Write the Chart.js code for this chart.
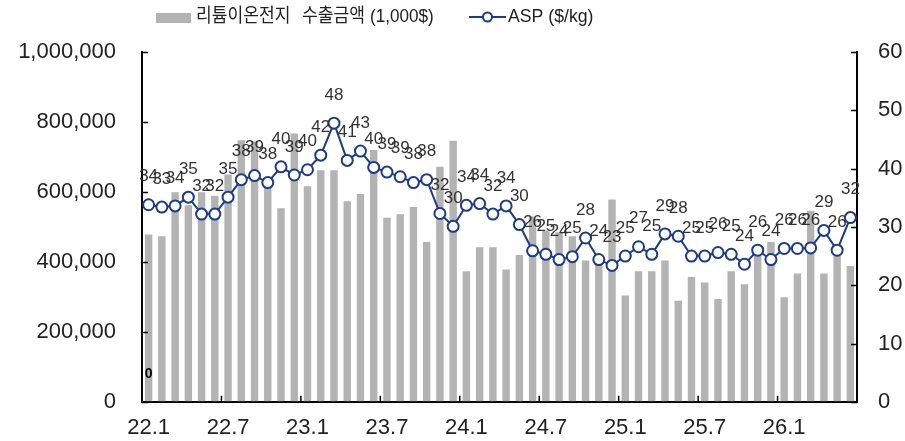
<!DOCTYPE html>
<html>
<head>
<meta charset="utf-8">
<script src="https://cdn.jsdelivr.net/npm/chart.js@4/dist/chart.umd.min.js"></script>
<style>
  html, body { margin: 0; padding: 0; background: #fff; }
  #wrap { width: 905px; height: 441px; }
</style>
</head>
<body>
<div id="wrap"><canvas id="c" width="905" height="441"></canvas></div>
<script>
// Monthly categories, 2022.01 – 2026.06
const categories = [
  '22.1','22.2','22.3','22.4','22.5','22.6','22.7','22.8','22.9','22.10','22.11','22.12',
  '23.1','23.2','23.3','23.4','23.5','23.6','23.7','23.8','23.9','23.10','23.11','23.12',
  '24.1','24.2','24.3','24.4','24.5','24.6','24.7','24.8','24.9','24.10','24.11','24.12',
  '25.1','25.2','25.3','25.4','25.5','25.6','25.7','25.8','25.9','25.10','25.11','25.12',
  '26.1','26.2','26.3','26.4','26.5','26.6'
];

// Lithium-ion battery export value (thousand USD)
const exportValue = [
  478000, 473000, 599000, 562000, 599000, 589000, 650000, 748000, 745000, 612000, 553000, 767000,
  616000, 662000, 662000, 573000, 594000, 720000, 526000, 536000, 557000, 457000, 672000, 746000,
  373000, 442000, 442000, 378000, 420000, 530000, 490000, 485000, 473000, 404000, 392000, 578000,
  304000, 373000, 373000, 404000, 289000, 357000, 341000, 294000, 373000, 336000, 420000, 457000,
  299000, 367000, 546000, 367000, 450000, 388000
];

// Average selling price (USD/kg)
const asp = [
  33.8, 33.4, 33.6, 35.1, 32.2, 32.2, 35.1, 38.1, 38.8, 37.6, 40.3, 38.9,
  39.8, 42.3, 47.8, 41.4, 43.0, 40.2, 39.4, 38.6, 37.6, 38.1, 32.3, 30.1,
  33.7, 34.0, 32.2, 33.6, 30.4, 25.9, 25.3, 24.4, 24.9, 28.1, 24.4, 23.4,
  25.0, 26.6, 25.3, 28.8, 28.4, 25.0, 25.0, 25.6, 25.3, 23.6, 26.0, 24.4,
  26.3, 26.3, 26.4, 29.4, 26.0, 31.6
];

const leftTicks = [0, 200000, 400000, 600000, 800000, 1000000];
const rightTicks = [0, 10, 20, 30, 40, 50, 60];

const barLabelParts = ['리튬이온전지', '수출금액', '(1,000$)'];
const barLabel = barLabelParts.join(' ');
const lineLabel = 'ASP ($/kg)';

const BAR_COLOR = '#b3b3b3';
const LINE_COLOR = '#1b3c8c';
const TEXT_COLOR = '#222';
const TICK_FONT = { family: "'Liberation Sans', Arial, sans-serif", size: 22 };

// Inward tick marks on all three axes
const innerTicks = {
  id: 'innerTicks',
  afterDraw(chart) {
    const ctx = chart.ctx;
    const { left, right, bottom } = chart.chartArea;
    const yl = chart.scales.y, yr = chart.scales.y1, xs = chart.scales.x;
    ctx.save();
    ctx.strokeStyle = '#000';
    ctx.lineWidth = 1.5;
    ctx.beginPath();
    yl.ticks.forEach(t => {
      const y = Math.round(yl.getPixelForValue(t.value)) + 0.5;
      ctx.moveTo(left, y); ctx.lineTo(left + 6, y);
    });
    yr.ticks.forEach(t => {
      const y = Math.round(yr.getPixelForValue(t.value)) + 0.5;
      ctx.moveTo(right, y); ctx.lineTo(right - 6, y);
    });
    for (let i = 6; i < categories.length; i += 6) {
      const x = (xs.getPixelForValue(i - 1) + xs.getPixelForValue(i)) / 2;
      ctx.moveTo(x, bottom); ctx.lineTo(x, bottom - 6);
    }
    ctx.stroke();
    ctx.restore();
  }
};

// Value labels above the ASP points, plus the stray zero label
const pointLabels = {
  id: 'pointLabels',
  afterDatasetsDraw(chart) {
    const ctx = chart.ctx;
    const meta = chart.getDatasetMeta(1);
    ctx.save();
    ctx.font = "17px 'Liberation Sans', Arial, sans-serif";
    ctx.fillStyle = '#333';
    ctx.textAlign = 'center';
    ctx.textBaseline = 'middle';
    meta.data.forEach((pt, i) => {
      ctx.fillText(String(Math.round(asp[i])), pt.x, pt.y - 28);
    });
    ctx.font = "bold 14px 'Liberation Sans', Arial, sans-serif";
    ctx.fillStyle = '#000';
    ctx.fillText('0', chart.scales.x.getPixelForValue(0), chart.scales.y1.getPixelForValue(4.8));
    ctx.restore();
  }
};

// Legend row at the top
const topLegend = {
  id: 'topLegend',
  afterDraw(chart) {
    const ctx = chart.ctx;
    const cy = 17;
    ctx.save();
    ctx.fillStyle = BAR_COLOR;
    ctx.fillRect(156, 13, 35, 10);
    ctx.fillStyle = TEXT_COLOR;
    ctx.textBaseline = 'middle';
    ctx.textAlign = 'left';
    const partX = [196, 302, 370];
    barLabelParts.forEach((txt, k) => {
      ctx.save();
      ctx.translate(partX[k], cy);
      ctx.scale(0.9, 1);
      ctx.font = "19px 'Liberation Sans', 'Noto Sans CJK KR', sans-serif";
      ctx.fillText(txt, 0, 0);
      ctx.restore();
    });

    ctx.strokeStyle = LINE_COLOR;
    ctx.lineWidth = 2;
    ctx.beginPath();
    ctx.moveTo(469, cy); ctx.lineTo(506, cy);
    ctx.stroke();
    ctx.beginPath();
    ctx.arc(487.5, cy, 4.5, 0, Math.PI * 2);
    ctx.fillStyle = '#fff';
    ctx.fill();
    ctx.stroke();
    ctx.fillStyle = TEXT_COLOR;
    ctx.save();
    ctx.translate(508, cy);
    ctx.scale(0.93, 1);
    ctx.font = "19px 'Liberation Sans', Arial, sans-serif";
    ctx.fillText(lineLabel, 0, 0);
    ctx.restore();
    ctx.restore();
  }
};

new Chart(document.getElementById('c'), {
  data: {
    labels: categories,
    datasets: [
      {
        type: 'bar',
        label: barLabel,
        data: exportValue,
        backgroundColor: BAR_COLOR,
        yAxisID: 'y',
        categoryPercentage: 1.0,
        barPercentage: 0.56,
        order: 2
      },
      {
        type: 'line',
        label: lineLabel,
        data: asp,
        yAxisID: 'y1',
        borderColor: LINE_COLOR,
        borderWidth: 2,
        pointRadius: 5.5,
        pointBorderWidth: 2,
        pointBackgroundColor: '#fff',
        pointBorderColor: LINE_COLOR,
        tension: 0,
        order: 1
      }
    ]
  },
  options: {
    responsive: false,
    animation: false,
    layout: { padding: { top: 52, left: 0, right: 0, bottom: 0 } },
    plugins: { legend: { display: false }, tooltip: { enabled: false } },
    scales: {
      x: {
        offset: true,
        grid: { display: true, drawOnChartArea: false, drawTicks: false },
        border: { display: true, color: '#000', width: 2 },
        ticks: {
          autoSkip: false,
          maxRotation: 0,
          padding: 13,
          color: TEXT_COLOR,
          font: TICK_FONT,
          callback: (v, i) => (i % 6 === 0 ? categories[i] : '')
        },
        afterFit: s => { s.height = 37; }
      },
      y: {
        position: 'left',
        min: 0,
        max: 1000000,
        afterBuildTicks: s => { s.ticks = leftTicks.map(v => ({ value: v })); },
        grid: { display: true, drawOnChartArea: false, drawTicks: false },
        border: { display: true, color: '#000', width: 2 },
        ticks: {
          padding: 26,
          color: TEXT_COLOR,
          font: TICK_FONT,
          callback: v => v.toLocaleString('en-US')
        },
        afterFit: s => { s.width = 142; }
      },
      y1: {
        position: 'right',
        min: 0,
        max: 60,
        afterBuildTicks: s => { s.ticks = rightTicks.map(v => ({ value: v })); },
        grid: { display: true, drawOnChartArea: false, drawTicks: false },
        border: { display: true, color: '#000', width: 2 },
        ticks: {
          padding: 21,
          color: TEXT_COLOR,
          font: TICK_FONT
        },
        afterFit: s => { s.width = 48; }
      }
    }
  },
  plugins: [innerTicks, pointLabels, topLegend]
});
</script>
</body>
</html>
